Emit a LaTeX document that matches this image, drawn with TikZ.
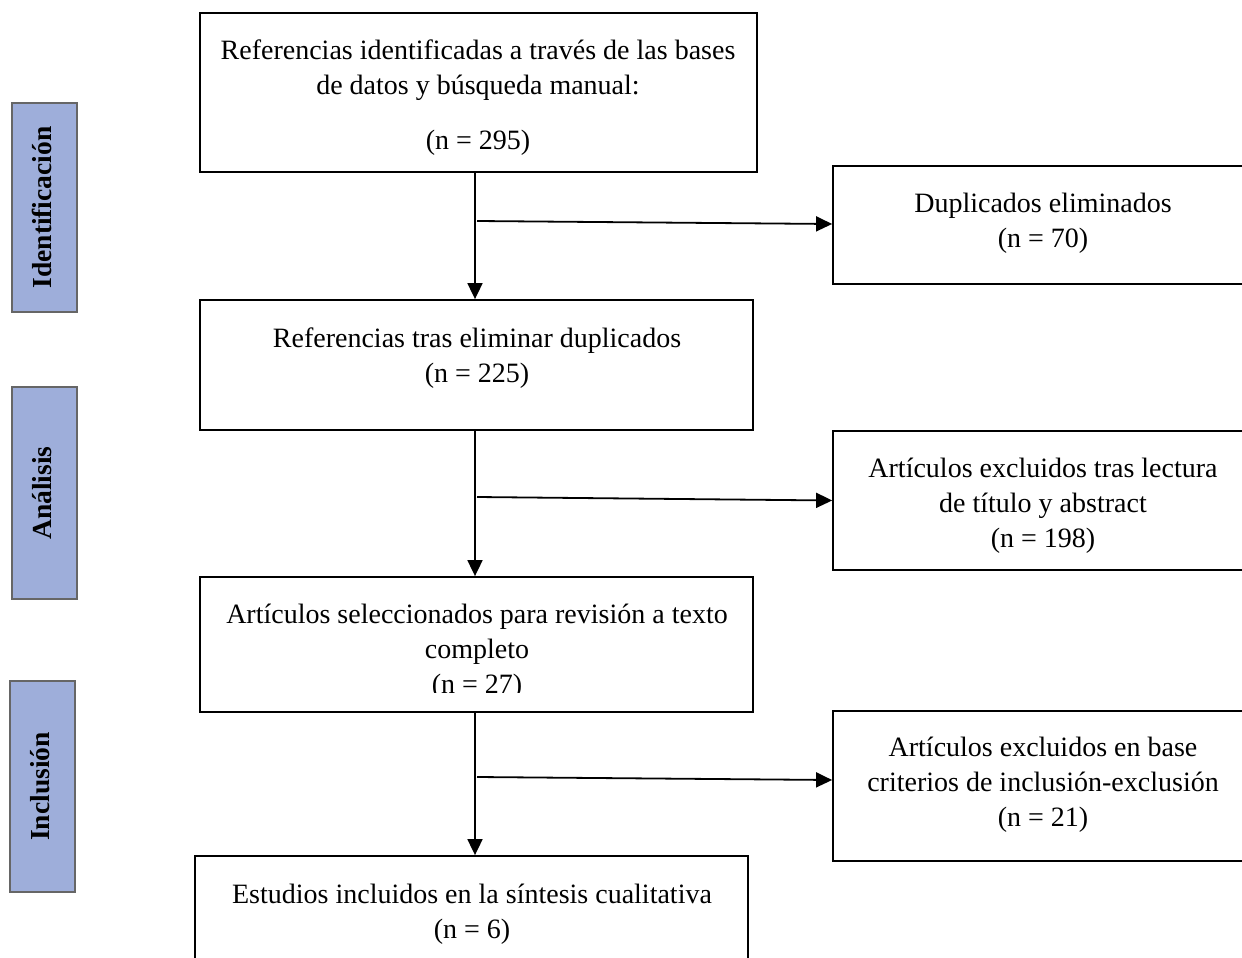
\documentclass[tikz,border=0pt]{standalone}
\usepackage{fontspec}
\setmainfont{Liberation Serif}
\usetikzlibrary{arrows.meta,calc}
\begin{document}
\begin{tikzpicture}[x=1pt,y=-1pt,
  box/.style={draw=black,line width=1.8pt,rectangle,inner sep=0pt},
  txt/.style={inner sep=0pt,align=center,font=\fontsize{28}{35}\selectfont},
  phase/.style={draw=black!60,line width=1.2pt,fill=phasefill,rectangle,inner sep=0pt,minimum width=65pt},
  phasetxt/.style={rotate=90,inner sep=0pt,font=\fontsize{27.5}{32}\selectfont\bfseries},
  conn/.style={line width=1.8pt,-{Triangle[length=16pt,width=15pt]}}]
\definecolor{phasefill}{HTML}{9EAEDA}
\useasboundingbox (0,0) rectangle (1242,958);
\clip (0,0) rectangle (1242,958);
\fill[white] (0,0) rectangle (1242,958);

% left phase labels
\node[phase,minimum height=209pt] (pid) at (44.5,207.5) {};
\node[phasetxt] (pidt) at (42,207.5) {Identificación};
\node[phase,minimum height=212pt] (pan) at (44.5,493) {};
\node[phasetxt] (pant) at (42,493) {Análisis};
\node[phase,minimum height=211pt] (pin) at (42.5,786.5) {};
\node[phasetxt] (pint) at (40,786.5) {Inclusión};

% main boxes
\node[box,minimum width=557pt,minimum height=159pt] (b1) at (478.5,92.5) {};
\node[txt] (b1t) at (478,98) {Referencias identificadas a través de las bases\\de datos y búsqueda manual:\\[20pt](n = 295)};

\node[box,minimum width=553pt,minimum height=130pt] (b2) at (476.5,365) {};
\node[txt] (b2t) at (477,358) {Referencias tras eliminar duplicados\\(n = 225)};

\node[box,minimum width=553pt,minimum height=135pt] (b3) at (476.5,644.5) {};
\begin{scope}
\clip (200,570) rectangle (753,692);
\node[txt] (b3t) at (477,651.5) {Artículos seleccionados para revisión a texto\\completo\\(n = 27)};
\end{scope}

\node[box,minimum width=553pt,minimum height=110pt] (b4) at (471.5,911) {};
\node[txt] (b4t) at (472,914) {Estudios incluidos en la síntesis cualitativa\\(n = 6)};

% right boxes
\node[box,minimum width=420pt,minimum height=118pt] (r1) at (1043,225) {};
\node[txt] (r1t) at (1043,223.5) {Duplicados eliminados\\(n = 70)};

\node[box,minimum width=420pt,minimum height=139pt] (r2) at (1043,500.5) {};
\node[txt] (r2t) at (1043,505.5) {Artículos excluidos tras lectura\\de título y abstract\\(n = 198)};

\node[box,minimum width=420pt,minimum height=150pt] (r3) at (1043,786) {};
\node[txt] (r3t) at (1043,785) {Artículos excluidos en base\\criterios de inclusión-exclusión\\(n = 21)};

% connectors
\draw[conn] ([xshift=-3.5pt]b1.south) -- ([xshift=-1.5pt]b2.north);
\draw[conn] ([xshift=-1.5pt]b2.south) -- ([xshift=-1.5pt]b3.north);
\draw[conn] ([xshift=-1.5pt]b3.south) -- ([xshift=3.5pt]b4.north);

\coordinate (s1) at (477,221);
\coordinate (s2) at (477,497);
\coordinate (s3) at (477,777);
\draw[conn] (s1) -- ([yshift=1pt]r1.west);
\draw[conn] (s2) -- (r2.west);
\draw[conn] (s3) -- ([yshift=6pt]r3.west);
\end{tikzpicture}
\end{document}
